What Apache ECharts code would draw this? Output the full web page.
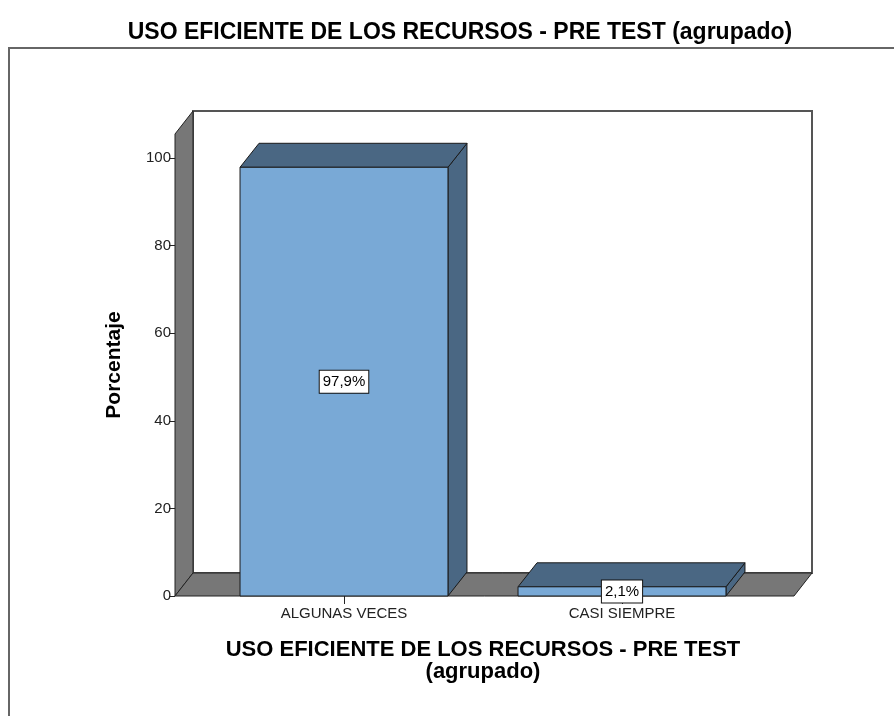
<!DOCTYPE html>
<html>
<head>
<meta charset="utf-8">
<script src="https://cdn.jsdelivr.net/npm/echarts@6/dist/echarts.min.js"></script>
<style>
  html, body { margin: 0; padding: 0; background: #fff; }
  #chart { width: 894px; height: 716px; }
</style>
</head>
<body>
<div id="chart"></div>
<script>
var categories = ['ALGUNAS VECES', 'CASI SIEMPRE'];
var percentages = [97.9, 2.1];
var percentLabels = ['97,9%', '2,1%'];
var yTicks = [0, 20, 40, 60, 80, 100];

var chart = echarts.init(document.getElementById('chart'));

// profundidad del efecto 3D
var wallDX = 18, wallDY = -23;
var barDX = 19, barDY = -24;
var FONT = 'Liberation Sans, Arial';

function renderWalls(params, api) {
    var cs = params.coordSys;
    var left = cs.x - 30;
    var right = cs.x + cs.width + 33;
    var bottom = api.coord([0, 0])[1];
    var top = cs.y;
    var line = { stroke: '#222', lineWidth: 1 };
    return {
        type: 'group',
        children: [
            {
                type: 'rect',
                shape: { x: left + wallDX, y: top + wallDY, width: right - left, height: bottom - top },
                style: { fill: '#fff', stroke: '#555', lineWidth: 2 }
            },
            {
                type: 'polygon',
                shape: { points: [[left, bottom], [left, top], [left + wallDX, top + wallDY], [left + wallDX, bottom + wallDY]] },
                style: Object.assign({ fill: '#777' }, line)
            },
            {
                type: 'polygon',
                shape: { points: [[left, bottom], [right, bottom], [right + wallDX, bottom + wallDY], [left + wallDX, bottom + wallDY]] },
                style: Object.assign({ fill: '#777' }, line)
            }
        ]
    };
}

function renderBar(params, api) {
    var idx = api.value(0);
    var val = api.value(1);
    var base = api.coord([idx, 0]);
    var topPt = api.coord([idx, val]);
    var half = api.size([1, 0])[0] * 0.374;
    var x0 = base[0] - half, x1 = base[0] + half;
    var y0 = base[1], y1 = topPt[1];
    var edge = { stroke: '#1a1a1a', lineWidth: 1 };
    return {
        type: 'group',
        children: [
            {
                type: 'polygon',
                shape: { points: [[x1, y1], [x1 + barDX, y1 + barDY], [x1 + barDX, y0 + barDY], [x1, y0]] },
                style: Object.assign({ fill: '#4a6783' }, edge)
            },
            {
                type: 'polygon',
                shape: { points: [[x0, y1], [x1, y1], [x1 + barDX, y1 + barDY], [x0 + barDX, y1 + barDY]] },
                style: Object.assign({ fill: '#4a6783' }, edge)
            },
            {
                type: 'rect',
                shape: { x: x0, y: y1, width: x1 - x0, height: y0 - y1 },
                style: Object.assign({ fill: '#79a9d6' }, edge)
            },
            {
                type: 'text',
                style: {
                    text: percentLabels[idx],
                    x: base[0], y: (y0 + y1) / 2,
                    align: 'center', verticalAlign: 'middle',
                    fontFamily: FONT, fontSize: 15, fill: '#000',
                    backgroundColor: '#fff', borderColor: '#111', borderWidth: 1,
                    padding: [4, 3, 3, 3]
                }
            }
        ]
    };
}

chart.setOption({
    backgroundColor: '#fff',
    animation: false,
    title: {
        text: 'USO EFICIENTE DE LOS RECURSOS - PRE TEST (agrupado)',
        left: 455, top: 16,
        textAlign: 'center',
        textStyle: { fontFamily: FONT, fontSize: 23, fontWeight: 'bold', color: '#000' }
    },
    graphic: [
        {
            type: 'polyline',
            shape: { points: [[9, 716], [9, 48], [894, 48]] },
            style: { stroke: '#666', lineWidth: 2, fill: null }
        }
    ],
    grid: { left: 205, top: 134, width: 556, bottom: 120 },
    xAxis: {
        type: 'category',
        data: categories,
        name: 'USO EFICIENTE DE LOS RECURSOS - PRE TEST\n(agrupado)',
        nameLocation: 'middle',
        nameGap: 43,
        nameTextStyle: { fontFamily: FONT, fontSize: 22, fontWeight: 'bold', color: '#000', lineHeight: 22 },
        axisLine: { show: false },
        axisTick: { show: true, alignWithLabel: true, length: 8, lineStyle: { color: '#222' } },
        axisLabel: { fontFamily: FONT, fontSize: 15, color: '#222', margin: 10 }
    },
    yAxis: {
        type: 'value',
        min: 0, max: 105.5, interval: 20,
        offset: 30,
        name: 'Porcentaje',
        nameLocation: 'middle',
        nameGap: 50,
        nameTextStyle: { fontFamily: FONT, fontSize: 21, fontWeight: 'bold', color: '#000' },
        axisLine: { show: false },
        axisTick: { show: true, length: 6, customValues: yTicks, lineStyle: { color: '#222' } },
        axisLabel: {
            fontFamily: FONT, fontSize: 15, color: '#222', margin: 4,
            customValues: yTicks
        },
        splitLine: { show: false }
    },
    series: [
        {
            type: 'custom',
            z: 1,
            silent: true,
            renderItem: renderWalls,
            data: [[0, 0]]
        },
        {
            type: 'custom',
            z: 2,
            renderItem: renderBar,
            data: percentages.map(function (v, i) { return [i, v]; })
        }
    ]
});
</script>
</body>
</html>
